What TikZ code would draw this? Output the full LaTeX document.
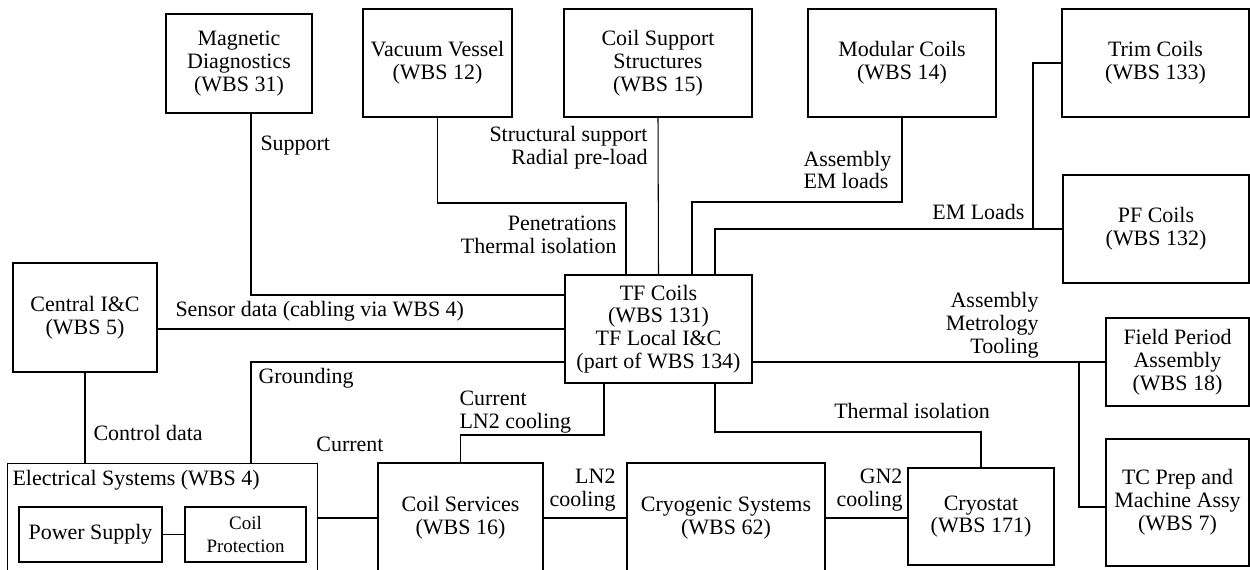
\documentclass[tikz,border=0pt]{standalone}
\usepackage{fontspec}
\setmainfont{Liberation Serif}
\tikzset{
	every node/.style={font=\fontsize{12.5}{13}\selectfont, align=center}
}
\tikzset{
	block/.style={draw},
	boxsize/.style 2 args={minimum width=#1*0.02cm, minimum height=#2*0.02cm},
	note/.style={inner sep=0pt}
}

\begin{document}
\begin{tikzpicture}[x=0.02cm, y=-0.02cm, line width=0.6pt]
	\useasboundingbox (0,0) rectangle (1250,570);
	\clip (0,0) rectangle (1250,570);

	% subsystems
	\node (magdiag) [block, boxsize={146}{99}] at ( 239, 63.5) {Magnetic\\Diagnostics\\(WBS 31)};
	\node (vv) [block, boxsize={149}{108}] at ( 437.5, 63) {Vacuum Vessel\\(WBS 12)};
	\node (coilsup) [block, boxsize={188}{108}] at ( 658, 63) {Coil Support\\Structures\\(WBS 15)};
	\node (modular) [block, boxsize={188}{108}] at ( 902, 63) {Modular Coils\\(WBS 14)};
	\node (trim) [block, boxsize={187}{108}] at (1155.5, 63) {Trim Coils\\(WBS 133)};
	\node (pf) [block, boxsize={186}{108}] at (1156, 229) {PF Coils\\(WBS 132)};
	\node (tf) [block, boxsize={187}{108}] at ( 658.5, 329) {TF Coils\\(WBS 131)\\TF Local I\&C\\(part of WBS 134)};
	\node (central) [block, boxsize={144}{109}] at (  85, 317.5) {Central I\&C\\(WBS 5)};
	\node (fpa) [block, boxsize={143}{88}] at (1177.5, 362) {Field Period\\Assembly\\(WBS 18)};
	\node (tcprep) [block, boxsize={143}{127}] at (1177.5, 502.5) {TC Prep and\\Machine Assy\\(WBS 7)};
	\node (cryostat) [block, boxsize={146}{97}] at ( 981, 516.5) {Cryostat\\(WBS 171)};
	\node (cryo) [block, boxsize={198}{110}] at ( 726, 518) {Cryogenic Systems\\(WBS 62)};
	\node (coilserv) [block, boxsize={165}{110}] at ( 460.5, 518) {Coil Services\\(WBS 16)};
	\node (elec) [block, boxsize={310}{140}, anchor=north west] at (   7, 463) {};
	\node (electitle) [note, anchor=west] at (12, 480) {Electrical Systems (WBS 4)};
	\node (power) [block, boxsize={143}{55}] at (  90.5, 534.5) {Power Supply};
	\node (coilprot) [block, boxsize={121}{55}, font=\fontsize{10.8}{12.9}\selectfont] at ( 245.5, 534.5) {Coil\\Protection};

	% interfaces
	\draw (magdiag.south -| 251,0) |- (tf.west |- 0,295);
	\draw (central.east |- tf.west) -- (tf.west);
	\draw (tf.west |- 0,362) -| (elec.north -| 251,0);
	\draw (central.south) -- (central.south |- elec.north);
	\draw (elec.east |- coilserv.west) -- (coilserv.west);
	\draw (power) -- (coilprot);
	\draw (coilserv.north) |- (604,435) -- (tf.south -| 604,0);
	\draw (coilserv) -- (cryo);
	\draw (cryo.east) -- (cryostat.west |- cryo.east);
	\draw (tf.south -| 715,0) |- (981,432) -- (cryostat.north);
	\draw (tf.east |- fpa.west) -- (fpa.west);
	\draw (1079,362) |- (tcprep.west |- 0,507);
	\draw (vv.south) |- (626,203) -- (tf.north -| 626,0);
	\draw (coilsup.south) -- (tf.north);
	\draw (modular.south) |- (692,202) -- (tf.north -| 692,0);
	\draw (pf.west) -| (tf.north -| 715,0);
	\draw (trim.west) -| (1033,229);

	% interface labels
	\node (lsupport) [note, anchor=west] at (260, 146) {Support};
	\node (lsensor) [note, anchor=west] at (175, 311) {Sensor data (cabling via WBS 4)};
	\node (lground) [note, anchor=west] at (258, 378) {Grounding};
	\node (lcontrol) [note, anchor=west] at ( 93, 433) {Control data};
	\node (lcurrent) [note] at (350, 444) {Current};
	\node (lcurln) [note, anchor=west, align=left] at (459, 412) {Current\\LN2 cooling};
	\node (lln) [note, anchor=east, align=right] at (616, 490) {LN2\\cooling};
	\node (lgn) [note, anchor=east, align=right] at (903, 490) {GN2\\cooling};
	\node (ltherm) [note] at (912, 411) {Thermal isolation};
	\node (lassy) [note, anchor=east, align=right] at (1039, 325) {Assembly\\Metrology\\Tooling};
	\node (lpen) [note, anchor=east, align=right] at (617, 235) {Penetrations\\Thermal isolation};
	\node (lstruct) [note, anchor=east, align=right] at (648, 148) {Structural support\\Radial pre-load};
	\node (lemasm) [note, anchor=west, align=left] at (803, 170) {Assembly\\EM loads};
	\node (lem) [note, anchor=east] at (1025, 212) {EM Loads};
\end{tikzpicture}
\end{document}
